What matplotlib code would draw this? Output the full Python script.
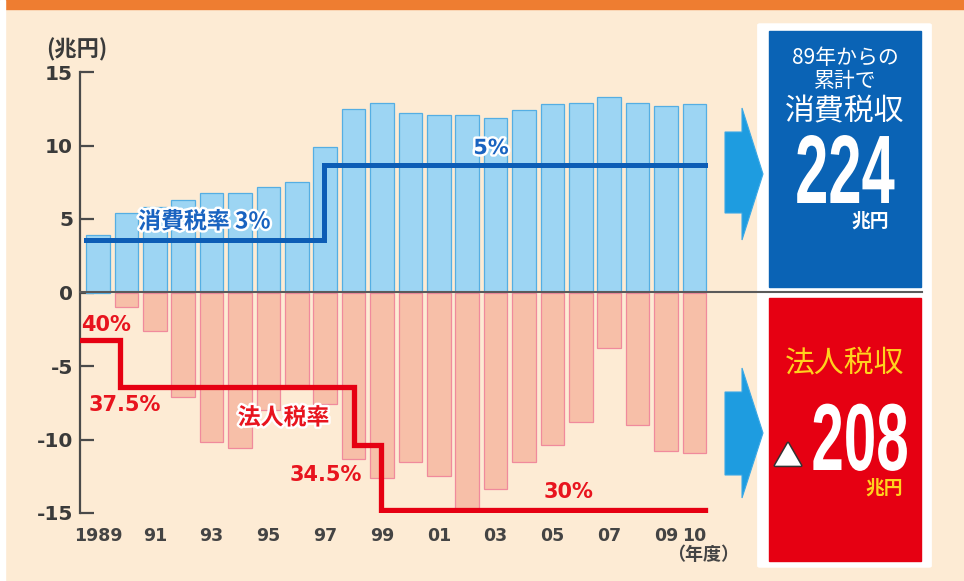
import matplotlib
matplotlib.use("Agg")
import matplotlib.pyplot as plt
import matplotlib.patheffects as pe
from matplotlib.patches import Rectangle, FancyBboxPatch, Polygon
from matplotlib.lines import Line2D
from matplotlib.text import Text
from matplotlib.transforms import Affine2D, Bbox

plt.rcParams['font.family'] = ['Noto Sans CJK JP', 'DejaVu Sans']
plt.rcParams['axes.unicode_minus'] = False

# 年度ごとの税収（兆円）：消費税収はプラス、法人税収の減少分はマイナス
years = list(range(1989, 2011))
consumption = [3.9, 5.4, 5.8, 6.3, 6.8, 6.8, 7.2, 7.5, 9.9, 12.5, 12.9,
               12.2, 12.1, 12.1, 11.9, 12.4, 12.8, 12.9, 13.3, 12.9, 12.7, 12.8]
corporate = [0.0, -1.0, -2.6, -7.1, -10.2, -10.6, -8.0, -6.3, -7.6, -11.3, -12.6,
             -11.5, -12.5, -15.0, -13.4, -11.5, -10.4, -8.8, -3.8, -9.0, -10.8, -10.9]

# 税率の推移（階段線）
cons_rate_steps = [1988.58, 1996.95, 2010.38]
cons_rate_level = [3.6, 8.7]
corp_rate_steps = [1988.37, 1989.78, 1998.0, 1998.95, 2010.38]
corp_rate_level = [-3.2, -6.4, -10.4, -14.8]

xtick_pos = [1989, 1991, 1993, 1995, 1997, 1999, 2001, 2003, 2005, 2007, 2009, 2010]
xtick_labels = ['1989', '91', '93', '95', '97', '99', '01', '03', '05', '07', '09', '10']
ytick_pos = [-15, -10, -5, 0, 5, 10, 15]
ytick_labels = ['-15', '-10', '-5', '0', '5', '10', '15']

cream = '#FDEBD4'
W, H = 964, 581


def fx(px):
    return px / W


def fy(py):
    return 1 - py / H


class Tall(pe.AbstractPathEffect):
    """ベースラインを基準に文字を縦に伸ばす（長体）"""
    def __init__(self, cy, sy):
        super().__init__()
        self.cy = cy
        self.sy = sy

    def draw_path(self, renderer, gc, tpath, affine, rgbFace=None):
        stretch = Affine2D().translate(0, -self.cy).scale(1, self.sy).translate(0, self.cy)
        renderer.draw_path(gc, tpath, affine + stretch, rgbFace)


class TallText(Text):
    def __init__(self, x, y, s, sy=1.6, **kw):
        super().__init__(x, y, s, **kw)
        self._sy = sy

    def _anchor(self):
        return self.get_transform().transform(self.get_position())

    def draw(self, renderer):
        self.set_path_effects([Tall(self._anchor()[1], self._sy)])
        super().draw(renderer)

    def get_window_extent(self, renderer=None, dpi=None):
        bb = super().get_window_extent(renderer, dpi)
        cy = self._anchor()[1]
        # 数字なのでベースラインより下は使わない
        return Bbox.from_extents(bb.x0, cy, bb.x1, cy + (bb.y1 - cy) * self._sy)


fig = plt.figure(figsize=(9.64, 5.81), dpi=100)
fig.patch.set_facecolor(cream)

# 上の帯と左端の白
fig.add_artist(Rectangle((0, fy(9)), 1, 9 / H, transform=fig.transFigure,
                         color='#EE7D31', zorder=0))
fig.add_artist(Rectangle((0, 0), 5 / W, 1, transform=fig.transFigure,
                         color='white', zorder=0))

ax = fig.add_axes([fx(80), fy(513), (720 - 80) / W, (513 - 72) / H])
ax.patch.set_visible(False)

ax.bar(years, consumption, width=0.83, color='#9DD5F3', edgecolor='#55AEE3', linewidth=0.9, zorder=2)
ax.bar(years[1:], corporate[1:], width=0.83, color='#F7BFA8', edgecolor='#F08A9C', linewidth=0.9, zorder=2)

ax.plot(cons_rate_steps, cons_rate_level + cons_rate_level[-1:], drawstyle='steps-post',
        color='#0D5DB5', linewidth=3.6, zorder=3, solid_joinstyle='miter')
ax.plot(corp_rate_steps, corp_rate_level + corp_rate_level[-1:], drawstyle='steps-post',
        color='#E60012', linewidth=3.8, zorder=3, solid_joinstyle='miter')

ax.set_xlim(1988.366, 2010.90)
ax.set_ylim(-15, 15)
for s in ['top', 'right', 'bottom']:
    ax.spines[s].set_visible(False)
ax.spines['left'].set_color('#4A4A4A')
ax.spines['left'].set_linewidth(1.6)

ax.set_yticks(ytick_pos)
ax.set_yticklabels(ytick_labels, fontsize=14.5, fontweight='bold', color='#3A3A3A',
                   family='DejaVu Sans')
ax.tick_params(axis='y', direction='in', length=10, width=1.6, color='#4A4A4A', pad=5)
ax.set_xticks(xtick_pos)
ax.set_xticklabels(xtick_labels, fontsize=12.5, fontweight='bold', color='#444444',
                   family='DejaVu Sans')
ax.tick_params(axis='x', length=0, pad=10)

white_edge = [pe.withStroke(linewidth=3.5, foreground='white')]
blue_txt = '#1963C0'
red_txt = '#E8141E'

ax.text(1990.41, 4.8, '消費税率 3%', fontsize=16.5, fontweight='bold', color=blue_txt,
        ha='left', va='center', path_effects=white_edge, zorder=4)
ax.text(2002.84, 9.83, '5%', fontsize=15, fontweight='bold', color=blue_txt,
        ha='center', va='center', path_effects=white_edge, zorder=4, family='DejaVu Sans')

ax.text(1988.40, -2.2, '40%', fontsize=15, fontweight='bold', color=red_txt,
        ha='left', va='center', zorder=4, family='DejaVu Sans')
ax.text(1988.65, -7.65, '37.5%', fontsize=15, fontweight='bold', color=red_txt,
        ha='left', va='center', zorder=4, family='DejaVu Sans')
ax.text(1995.53, -8.54, '法人税率', fontsize=16.5, fontweight='bold', color=red_txt,
        ha='center', va='center', path_effects=white_edge, zorder=4)
ax.text(1998.30, -12.41, '34.5%', fontsize=15, fontweight='bold', color=red_txt,
        ha='right', va='center', zorder=4, family='DejaVu Sans')
ax.text(2005.55, -13.57, '30%', fontsize=15, fontweight='bold', color=red_txt,
        ha='center', va='center', zorder=4, family='DejaVu Sans')

fig.text(fx(77), fy(50), '(兆円)', fontsize=16, fontweight='bold', color='#3A3A3A',
         ha='center', va='center')
fig.text(fx(703), fy(555), '（年度）', fontsize=13, fontweight='bold', color='#444444',
         ha='center', va='center')

# 右側のパネル
fig.add_artist(FancyBboxPatch((fx(760), fy(566)), (929 - 760) / W, (566 - 25) / H,
                              boxstyle='round,pad=0.003', transform=fig.transFigure,
                              facecolor='white', edgecolor='none', zorder=1))
fig.add_artist(Rectangle((fx(769), fy(287)), (921 - 769) / W, (287 - 31) / H,
                         transform=fig.transFigure, color='#0A63B5', zorder=2))
fig.add_artist(Rectangle((fx(769), fy(561)), (921 - 769) / W, (561 - 298) / H,
                         transform=fig.transFigure, color='#E60012', zorder=2))

# ゼロの線（パネルの下まで伸ばす）
fig.add_artist(Line2D([fx(80), fx(922)], [fy(292.5), fy(292.5)], transform=fig.transFigure,
                      color='#5A5A5A', linewidth=1.5, zorder=5))

# 矢印
for top, bot, tip_y, h_top, h_bot in [(132, 213, 174, 108, 240), (392, 475, 433, 368, 498)]:
    pts = [(725, top), (742, top), (742, h_top), (763, tip_y), (742, h_bot), (742, bot), (725, bot)]
    fig.add_artist(Polygon([(fx(x), fy(y)) for x, y in pts], closed=True,
                           transform=fig.transFigure, facecolor='#1E9CE0',
                           edgecolor='#3AA8E6', linewidth=0.8, zorder=2))

fig.text(fx(845), fy(58), '89年からの', fontsize=15, color='white', ha='center', va='center', zorder=6)
fig.text(fx(845), fy(81), '累計で', fontsize=15, color='white', ha='center', va='center', zorder=6)
fig.text(fx(845), fy(112), '消費税収', fontsize=21.5, color='white', ha='center', va='center', zorder=6)
fig.add_artist(TallText(fx(845), fy(203), '224', sy=1.63, fontsize=43, fontweight='bold',
                        color='white', family='Liberation Sans', ha='center', va='baseline',
                        zorder=6, transform=fig.transFigure))
fig.text(fx(870), fy(221), '兆円', fontsize=13.5, fontweight='bold', color='white',
         ha='center', va='center', zorder=6)

fig.text(fx(845), fy(364), '法人税収', fontsize=21.5, color='#FFD21E', ha='center', va='center', zorder=6)
fig.add_artist(TallText(fx(860), fy(470), '208', sy=1.63, fontsize=42, fontweight='bold',
                        color='white', family='Liberation Sans', ha='center', va='baseline',
                        zorder=6, transform=fig.transFigure))
fig.text(fx(884), fy(488), '兆円', fontsize=13.5, fontweight='bold', color='#FFD21E',
         ha='center', va='center', zorder=6)
fig.text(fx(788), fy(458), '▲', fontsize=20, color='white', ha='center', va='center', zorder=6,
         path_effects=[pe.withStroke(linewidth=2.2, foreground='#333333')])

fig.savefig('out.png', dpi=100, facecolor=fig.get_facecolor())
